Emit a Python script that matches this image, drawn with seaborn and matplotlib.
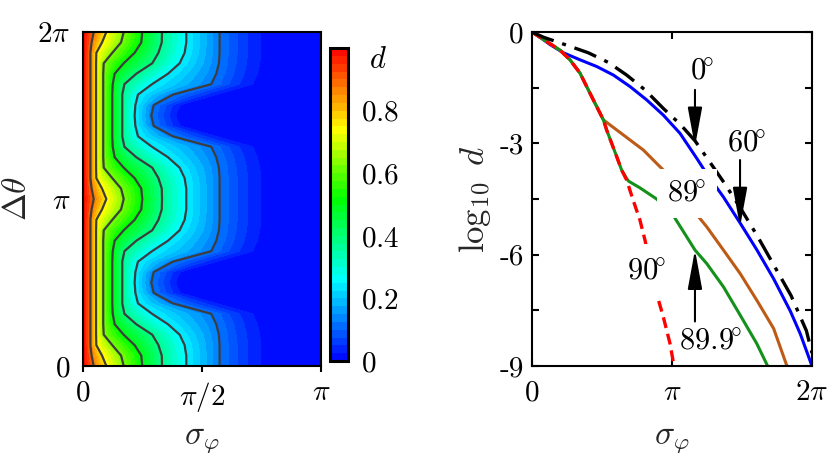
import numpy as np
import matplotlib
matplotlib.use("Agg")
import matplotlib.pyplot as plt
import seaborn as sns
from matplotlib.colors import LinearSegmentedColormap

# ---------------- left panel data ----------------
# sigma (in units of pi) where each contour of d crosses a row.
# rows: delta_theta = 0 .. pi/2 in steps of pi/16; the map is mirrored
# about pi/2 and repeats every pi, so one quarter is enough.
row_theta = [0, 1/16, 2/16, 3/16, 4/16, 5/16, 6/16, 7/16, 8/16]
d_edge = 1.0
sig_d875 = [0.045, 0.036, 0.031, 0.031, 0.031, 0.031, 0.031, 0.031, 0.031]
sig_d750 = [0.098, 0.080, 0.056, 0.055, 0.055, 0.055, 0.055, 0.055, 0.055]
sig_d625 = [0.171, 0.160, 0.123, 0.087, 0.085, 0.085, 0.085, 0.085, 0.085]
sig_d500 = [0.249, 0.245, 0.217, 0.171, 0.133, 0.125, 0.123, 0.123, 0.123]
sig_d375 = [0.332, 0.331, 0.317, 0.291, 0.224, 0.174, 0.165, 0.165, 0.165]
sig_d250 = [0.434, 0.434, 0.427, 0.406, 0.357, 0.290, 0.231, 0.220, 0.217]
sig_d125 = [0.574, 0.574, 0.574, 0.571, 0.560, 0.539, 0.378, 0.297, 0.287]
sig_d060 = [0.670, 0.670, 0.670, 0.665, 0.655, 0.635, 0.490, 0.365, 0.350]
sig_d015 = [0.770, 0.770, 0.770, 0.765, 0.755, 0.735, 0.580, 0.420, 0.400]
cross_sig = [sig_d875, sig_d750, sig_d625, sig_d500, sig_d375,
             sig_d250, sig_d125, sig_d060, sig_d015]
cross_d = [0.875, 0.75, 0.625, 0.5, 0.375, 0.25, 0.125, 0.06, 0.015]
line_levels = [0.125, 0.25, 0.375, 0.5, 0.625, 0.75, 0.875]

# ---------------- right panel data (sigma in units of pi, log10 d) ----------------
sig_0 = [0, 0.081, 0.243, 0.402, 0.545, 0.676, 0.807, 0.938, 1.057, 1.164,
         1.26, 1.37, 1.49, 1.61, 1.73, 1.85, 1.96, 2.0]
log_0 = [0, -0.14, -0.35, -0.56, -0.82, -1.16, -1.56, -2.06, -2.48, -2.93,
         -3.45, -4.05, -4.75, -5.50, -6.30, -7.10, -8.05, -8.65]
sig_60 = [0, 0.06, 0.129, 0.224, 0.343, 0.462, 0.581, 0.70, 0.819, 0.938,
          1.057, 1.176, 1.248, 1.368, 1.487, 1.606, 1.726, 1.845, 1.916, 2.0]
log_60 = [0, -0.15, -0.34, -0.56, -0.75, -0.93, -1.16, -1.47, -1.83, -2.24,
          -2.73, -3.40, -3.82, -4.45, -5.15, -5.87, -6.65, -7.52, -8.13, -9.0]
sig_89 = [0, 0.105, 0.20, 0.271, 0.343, 0.414, 0.474, 0.510, 0.605, 0.70,
          0.795, 0.890, 0.986, 1.153, 1.248, 1.368, 1.487, 1.606, 1.726, 1.821]
log_89 = [0, -0.26, -0.49, -0.75, -1.11, -1.65, -2.10, -2.37, -2.64, -2.91,
          -3.18, -3.54, -3.90, -4.81, -5.25, -5.88, -6.51, -7.23, -7.99, -9.0]
sig_899 = [0, 0.105, 0.20, 0.271, 0.343, 0.414, 0.474, 0.510, 0.533, 0.569,
           0.605, 0.640, 0.676, 0.69, 0.771, 0.890, 1.010, 1.165, 1.248,
           1.368, 1.487, 1.606, 1.683]
log_899 = [0, -0.26, -0.49, -0.75, -1.11, -1.65, -2.10, -2.37, -2.64, -3.0,
           -3.36, -3.72, -3.95, -4.02, -4.20, -4.50, -4.95, -5.88, -6.24,
           -6.87, -7.63, -8.40, -9.0]
sig_90 = [0, 0.105, 0.20, 0.271, 0.343, 0.414, 0.474, 0.510, 0.533, 0.569,
          0.605, 0.640, 0.676, 0.723, 0.771, 0.807, 0.890, 0.938, 0.986, 1.014]
log_90 = [0, -0.26, -0.49, -0.75, -1.11, -1.65, -2.10, -2.37, -2.64, -3.0,
          -3.36, -3.72, -3.99, -4.54, -5.07, -5.61, -7.05, -7.68, -8.40, -9.0]

blue, brown, green, red = "#0000ff", "#bd5b16", "#13911a", "#ff0000"

sns.set_theme(style="ticks")
plt.rcParams.update({
    "font.family": "serif",
    "font.serif": ["cmr10", "DejaVu Serif"],
    "mathtext.fontset": "cm",
    "axes.unicode_minus": False,
    "axes.formatter.use_mathtext": True,
    "axes.edgecolor": "black",
    "axes.linewidth": 1.5,
    "xtick.color": "black",
    "ytick.color": "black",
    "text.color": "black",
})

fig = plt.figure(figsize=(8.3, 4.67), dpi=100)
ax1 = fig.add_axes([0.100, 0.2163, 0.2867, 0.7152])
cax = fig.add_axes([0.3976, 0.2270, 0.0217, 0.6700])
ax2 = fig.add_axes([0.641, 0.2163, 0.3373, 0.7152])

# ---- left: filled contour map ----
quarter = list(range(len(row_theta)))
order = quarter + quarter[-2::-1] + quarter[1:] + quarter[-2::-1]
theta = np.linspace(0, 2, len(order))
X = np.array([[0.0] + [c[i] for c in cross_sig] + [1.0] for i in order])
Y = np.repeat(theta[:, None], X.shape[1], axis=1)
Z = np.tile([d_edge] + cross_d + [0.0], (len(order), 1))

cmap = LinearSegmentedColormap.from_list(
    "bcgyr", [(0, "#0000ff"), (0.26, "#00ffff"), (0.52, "#00ff00"),
              (0.74, "#ffff00"), (1.0, "#ff0000")])
cf = ax1.contourf(X, Y, Z, levels=np.linspace(0, 1, 41), cmap=cmap,
                  vmin=0, vmax=1)
ax1.contour(X, Y, Z, levels=line_levels, colors="#3d3d3d", linewidths=1.6)

ax1.set_xlim(0, 1)
ax1.set_ylim(0, 2)
ax1.set_xticks([0, 0.5, 1])
ax1.set_xticklabels([r"$0$", r"$\pi/2$", r"$\pi$"])
ax1.set_yticks([0, 1, 2])
ax1.set_yticklabels([r"$0$", r"$\pi$", r"$2\pi$"])
ax1.tick_params(axis="x", direction="out", length=4, width=1.5,
                labelsize=21, pad=6)
ax1.tick_params(axis="y", direction="in", length=4, width=1.5,
                labelsize=21, pad=9)
ax1.set_xlabel(r"$\sigma_\varphi$", fontsize=24)
ax1.xaxis.set_label_coords(0.5, -0.222)
ax1.xaxis.label.set_va("center")
ax1.set_ylabel(r"$\Delta\theta$", fontsize=24)
ax1.yaxis.set_label_coords(-0.277, 0.5)
ax1.yaxis.label.set_va("center")

cb = fig.colorbar(cf, cax=cax, ticks=[0, 0.2, 0.4, 0.6, 0.8])
cb.set_ticklabels([r"$0$", r"$0.2$", r"$0.4$", r"$0.6$", r"$0.8$"])
cb.outline.set_linewidth(2.2)
cax.tick_params(direction="in", length=5, width=1.5, labelsize=21, pad=9)
fig.text(0.4554, 0.8715, r"$d$", fontsize=22, ha="center", va="center")

# ---- right: log10 d curves ----
sns.lineplot(x=sig_60, y=log_60, ax=ax2, color=blue, lw=2.2,
             sort=False, estimator=None)
sns.lineplot(x=sig_89, y=log_89, ax=ax2, color=brown, lw=2.2,
             sort=False, estimator=None)
sns.lineplot(x=sig_899, y=log_899, ax=ax2, color=green, lw=2.2,
             sort=False, estimator=None)
sns.lineplot(x=sig_90, y=log_90, ax=ax2, color=red, lw=2.4,
             linestyle=(0, (3.3, 1.8)), sort=False, estimator=None)
sns.lineplot(x=sig_0, y=log_0, ax=ax2, color="black", lw=2.4,
             linestyle=(0, (7, 2.7, 1.2, 2.7)), sort=False, estimator=None)

ax2.set_xlim(0, 2)
ax2.set_ylim(-9, 0)
ax2.set_xticks([0, 1, 2])
ax2.set_xticklabels([r"$0$", r"$\pi$", r"$2\pi$"])
ax2.set_yticks([0, -3, -6, -9])
ax2.set_yticklabels(["0", "-3", "-6", "-9"])
ax2.set_yticks([-1.5, -4.5, -7.5], minor=True)
ax2.tick_params(which="both", direction="in", length=5, width=1.5,
                top=True, right=True, labelsize=21)
ax2.tick_params(axis="x", pad=10)
ax2.tick_params(axis="y", pad=6)
ax2.set_xlabel(r"$\sigma_\varphi$", fontsize=24)
ax2.xaxis.set_label_coords(0.5, -0.222)
ax2.xaxis.label.set_va("center")
ax2.set_ylabel(r"$\log_{10}\ d$", fontsize=25)
ax2.yaxis.set_label_coords(-0.204, 0.5)
ax2.yaxis.label.set_va("center")

ax2.text(1.212, -1.07, r"$0\!^{\circ}$", fontsize=22, ha="center", va="center")
ax2.text(1.534, -3.0, r"$60\!^{\circ}$", fontsize=22, ha="center", va="center")
ax2.text(1.105, -4.35, r"$89\!^{\circ}$", fontsize=22, ha="center",
         va="center", zorder=5,
         bbox=dict(boxstyle="square,pad=0.35", facecolor="white",
                   edgecolor="none"))
ax2.text(0.819, -6.45, r"$90\!^{\circ}$", fontsize=22, ha="center",
         va="center", zorder=5,
         bbox=dict(boxstyle="square,pad=0.45", facecolor="white",
                   edgecolor="none"))
ax2.text(1.271, -8.35, r"$89.9\!^{\circ}$", fontsize=22, ha="center",
         va="center", zorder=5)

arrow = dict(arrowstyle="-|>,head_length=1.2,head_width=0.22",
             mutation_scale=20, lw=1.5, color="black", shrinkA=0, shrinkB=0)
ax2.annotate("", xy=(1.164, -3.09), xytext=(1.164, -1.56), arrowprops=arrow)
ax2.annotate("", xy=(1.486, -5.25), xytext=(1.486, -3.45), arrowprops=arrow)
ax2.annotate("", xy=(1.164, -5.87), xytext=(1.164, -7.8), arrowprops=arrow)

fig.savefig("out.png", dpi=100)
